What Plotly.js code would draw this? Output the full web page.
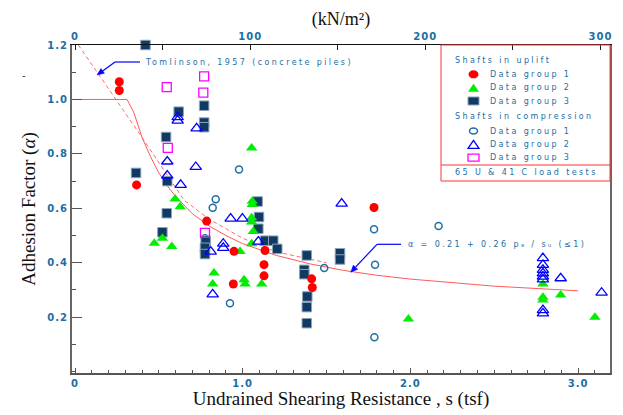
<!DOCTYPE html>
<html><head><meta charset="utf-8">
<script src="https://cdn.plot.ly/plotly-3.0.1.min.js"></script>
<style>
html,body{margin:0;padding:0;background:#fff;}
#chart{width:623px;height:415px;}
.annotation-text{letter-spacing:2.4px;}
.xtick text,.ytick text,.x2tick text{letter-spacing:1px;}
</style></head><body><div id="chart"></div>
<script>
// ---- data (s in tsf, alpha) ----
const upG1_s = [0.264,0.264,0.367,0.785,0.948,0.944,1.133,1.127,1.127,1.411,1.415,1.783];
const upG1_a = [1.065,1.033,0.686,0.553,0.442,0.322,0.445,0.393,0.352,0.341,0.309,0.603];

const upG2_s = [1.053,0.597,0.627,0.521,0.473,0.577,1.057,1.057,1.053,1.053,1.063,1.053,0.984,0.829,0.821,1.008,1.014,1.113,1.988,2.79,2.79,2.79,2.896,3.1];
const upG2_a = [0.822,0.634,0.606,0.490,0.472,0.460,0.626,0.614,0.565,0.550,0.515,0.470,0.441,0.362,0.322,0.338,0.322,0.322,0.193,0.322,0.273,0.263,0.282,0.200];

const upG3_s = [0.42,0.618,0.77,0.77,0.77,0.543,0.364,0.55,0.547,0.521,0.779,0.775,0.775,1.089,1.097,1.093,1.133,1.182,1.206,1.382,1.367,1.367,1.385,1.382,1.382,1.58,1.58];
const upG3_a = [1.2,0.955,0.977,0.915,0.898,0.862,0.730,0.700,0.582,0.512,0.481,0.455,0.432,0.625,0.568,0.525,0.481,0.481,0.451,0.427,0.374,0.358,0.276,0.237,0.178,0.435,0.412];

const cpG1_s = [0.978,0.839,0.821,0.924,0.775,1.486,1.783,1.789,1.785,2.168];
const cpG1_a = [0.743,0.633,0.602,0.251,0.490,0.381,0.523,0.393,0.126,0.535];

const cpG2_s = [0.612,0.612,0.725,0.55,0.72,0.55,0.63,0.928,0.998,0.809,0.884,0.884,1.093,0.821,1.59,2.79,2.79,2.79,2.79,2.79,2.79,2.79,2.79,2.896,3.14];
const cpG2_a = [0.935,0.922,0.894,0.772,0.752,0.720,0.686,0.562,0.562,0.441,0.470,0.455,0.478,0.284,0.617,0.417,0.392,0.374,0.361,0.349,0.339,0.226,0.214,0.343,0.290];

const cpG3_s = [0.77,0.547,0.765,0.553,0.775];
const cpG3_a = [1.085,1.045,1.025,0.822,0.510];

// fitted curve alpha = 0.21 + 0.26 pa/su (<=1)
const fitS = [-0.018,0.31,0.35,0.4,0.45,0.5,0.55,0.6,0.7,0.8,0.9,1.0,1.2,1.4,1.6,1.8,2.0,2.5,3.0];
const fitA = [1.0,1.0,0.953,0.86,0.79,0.73,0.683,0.643,0.58,0.535,0.50,0.47,0.427,0.396,0.372,0.354,0.34,0.314,0.297];

// Tomlinson, 1957 (concrete piles)
const tomS = [0.02,0.4,0.65,0.8,1.0,1.2,1.5];
const tomA = [1.2,0.86,0.63,0.56,0.49,0.44,0.40];

// ticks
const xTickVals = [0,1,2,3];
const xTickText = ['0','1.0','2.0','3.0'];
const yTickVals = [0.2,0.4,0.6,0.8,1.0,1.2];
const yTickText = ['0.2','0.4','0.6','0.8','1.0','1.2'];
const topTickVals = [0,100,200,300];
const topTickText = ['0','100','200','300'];
const KN_PER_TSF = 95.76;

// ---- layout helpers ----
const W=623,H=415,L=72,R=13,T=45,B=42;
const pw=W-L-R, ph=H-T-B;
const px = x => (x-L)/pw;
const py = y => (H-B-y)/ph;
const xr = [-0.018,3.19];
const yr = [-0.005,1.2];
const tickBlue = '#1c6ea4';
const tickFont = {family:'DejaVu Sans',size:10,color:tickBlue,weight:'bold'};
const annFont = {family:'DejaVu Sans',size:8,color:tickBlue};

const traces = [
  {x:fitS.map(v=>v*KN_PER_TSF), y:fitA, xaxis:'x2', yaxis:'y', mode:'lines', line:{width:0}, opacity:0, hoverinfo:'skip', showlegend:false},
  {x:tomS, y:tomA, mode:'lines', line:{color:'#ff6b6b',width:1,dash:'4px,3px'}, hoverinfo:'skip'},
  {x:fitS, y:fitA, mode:'lines', line:{color:'#ff5a5a',width:1}, hoverinfo:'skip'},
  {x:cpG1_s, y:cpG1_a, mode:'markers', name:'Data group 1', marker:{symbol:'circle-open',size:7,color:'#1f6fa3',line:{width:1.5}}},
  {x:upG3_s, y:upG3_a, mode:'markers', name:'Data group 3', cliponaxis:false, marker:{symbol:'square',size:9.5,color:'#0f3a64',line:{color:'#8da2b8',width:1}}},
  {x:upG2_s, y:upG2_a, mode:'markers', name:'Data group 2', marker:{symbol:'triangle-up',size:10,color:'#00ee00'}},
  {x:upG1_s, y:upG1_a, mode:'markers', name:'Data group 1', marker:{symbol:'circle',size:9,color:'#ff0000'}},
  {x:cpG2_s, y:cpG2_a, mode:'markers', name:'Data group 2', marker:{symbol:'triangle-up-open',size:10,color:'#0000ff',line:{width:1.3}}},
  {x:cpG3_s, y:cpG3_a, mode:'markers', name:'Data group 3', marker:{symbol:'square-open',size:9,color:'#ff00ff',line:{width:1.3}}}
];

// legend glyph shapes (pixel positions converted to paper)
function ell(cx,cy,w,h,fill,line){return {type:'circle',xref:'paper',yref:'paper',x0:px(cx-w/2),x1:px(cx+w/2),y0:py(cy+h/2),y1:py(cy-h/2),fillcolor:fill,line:line};}
function rect(cx,cy,w,h,fill,line){return {type:'rect',xref:'paper',yref:'paper',x0:px(cx-w/2),x1:px(cx+w/2),y0:py(cy+h/2),y1:py(cy-h/2),fillcolor:fill,line:line};}
function tri(cx,cy,w,h,fill,line){
  const p=`M${px(cx-w/2)},${py(cy+h/2)} L${px(cx+w/2)},${py(cy+h/2)} L${px(cx)},${py(cy-h/2)} Z`;
  return {type:'path',xref:'paper',yref:'paper',path:p,fillcolor:fill,line:line};
}
function seg(x0,y0,x1,y1,color,w){return {type:'line',xref:'paper',yref:'paper',x0:px(x0),y0:py(y0),x1:px(x1),y1:py(y1),line:{color:color,width:w}};}
// bent pointer: text end -> knee -> tip, with a filled arrowhead at the tip
function pointer(tx0,ty0,kx,ky,tipx,tipy,color){
  const dx=tipx-kx, dy=tipy-ky, len=Math.hypot(dx,dy), ux=dx/len, uy=dy/len;
  const hl=7, hw=3;
  const bx=tipx-hl*ux, by=tipy-hl*uy;
  const p1=[bx-hw*uy, by+hw*ux], p2=[bx+hw*uy, by-hw*ux];
  const head=`M${px(tipx)},${py(tipy)} L${px(p1[0])},${py(p1[1])} L${px(p2[0])},${py(p2[1])} Z`;
  return [seg(tx0,ty0,kx,ky,color,1.2), seg(kx,ky,bx,by,color,1.2),
          {type:'path',xref:'paper',yref:'paper',path:head,fillcolor:color,line:{color:color,width:0.5}}];
}

const gx=473.5, tx=488.3;
const rows=[74.3,87.7,101,131,144.3,157.7];
const shapes=[
  {type:'rect',xref:'paper',yref:'paper',x0:px(441),x1:px(610),y0:py(181),y1:py(45),line:{color:'#ff3333',width:1},fillcolor:'rgba(0,0,0,0)'},
  seg(441,165,610,165,'#ff3333',1),
  ell(gx,rows[0],10,8,'#ff0000',{width:0}),
  tri(gx,rows[1],11,8,'#00ee00',{width:0}),
  rect(gx,rows[2],11,8,'#0f3a64',{color:'#8da2b8',width:1}),
  ell(gx,rows[3],8,6,'rgba(0,0,0,0)',{color:'#1f6fa3',width:1.5}),
  tri(gx,rows[4],11,8,'rgba(0,0,0,0)',{color:'#0000ff',width:1.3}),
  rect(gx,rows[5],11,7,'rgba(0,0,0,0)',{color:'#ff00ff',width:1.3}),
  ...pointer(140,62,115,62,97,75,'#0000ff'),
  ...pointer(401,244.3,377,244.3,350.7,272.3,'#0000ff')
];

function txt(x,y,t){return {xref:'paper',yref:'paper',x:px(x),y:py(y),text:t,showarrow:false,xanchor:'left',yanchor:'middle',font:annFont};}
const annotations=[
  txt(452.7,60.7,'Shafts in uplift'),
  txt(tx,rows[0],'Data group 1'),
  txt(tx,rows[1],'Data group 2'),
  txt(tx,rows[2],'Data group 3'),
  txt(452.7,116.7,'Shafts in compression'),
  txt(tx,rows[3],'Data group 1'),
  txt(tx,rows[4],'Data group 2'),
  txt(tx,rows[5],'Data group 3'),
  txt(452.7,172.7,'65 U & 41 C load tests'),
  txt(143,62,'Tomlinson, 1957 (concrete piles)'),
  txt(406,244.3,'α = 0.21 + 0.26 pₐ / sᵤ (≤1)'),
  {xref:'paper',yref:'paper',x:px(20),y:py(68),text:'-',showarrow:false,font:{family:'DejaVu Sans',size:10,color:'#333'}}
];

const layout={
  width:W,height:H,margin:{l:L,r:R,t:T,b:B},
  paper_bgcolor:'#fff',plot_bgcolor:'#fff',showlegend:false,
  xaxis:{range:xr,tickmode:'array',tickvals:xTickVals,ticktext:xTickText,ticks:'inside',ticklen:5,tickcolor:'#555',
    showline:true,linecolor:'#555',linewidth:1.5,showgrid:false,zeroline:false,tickfont:tickFont,
    minor:{dtick:0.1,ticks:'inside',ticklen:3,tickcolor:'#555',showgrid:false},
    title:{text:'Undrained Shearing Resistance , s (tsf)',font:{family:'Liberation Serif',size:19,color:'#111'},standoff:4}},
  xaxis2:{overlaying:'x',side:'top',anchor:'y',range:[xr[0]*KN_PER_TSF,xr[1]*KN_PER_TSF],tickmode:'array',tickvals:topTickVals,ticktext:topTickText,
    ticks:'inside',ticklen:5,tickcolor:'#222',showline:true,linecolor:'#111',linewidth:1.5,showgrid:false,zeroline:false,tickfont:tickFont,
    minor:{dtick:50,tick0:0,ticks:'inside',ticklen:5,tickcolor:'#222',showgrid:false},
    title:{text:'(kN/m²)',font:{family:'Liberation Serif',size:18,color:'#111'},standoff:0}},
  yaxis:{range:yr,tickmode:'array',tickvals:yTickVals,ticktext:yTickText,ticks:'inside',ticklen:10,tickcolor:'#555',
    showline:true,linecolor:'#666',linewidth:2,mirror:true,showgrid:false,zeroline:false,tickfont:tickFont,
    minor:{dtick:0.1,ticks:'inside',ticklen:4,tickcolor:'#555',showgrid:false},
    title:{text:'Adhesion Factor (<i>α</i>)',font:{family:'Liberation Serif',size:19,color:'#111'},standoff:7}},
  shapes:shapes,annotations:annotations
};
Plotly.newPlot('chart',traces,layout,{displayModeBar:false,staticPlot:true});
</script></body></html>
